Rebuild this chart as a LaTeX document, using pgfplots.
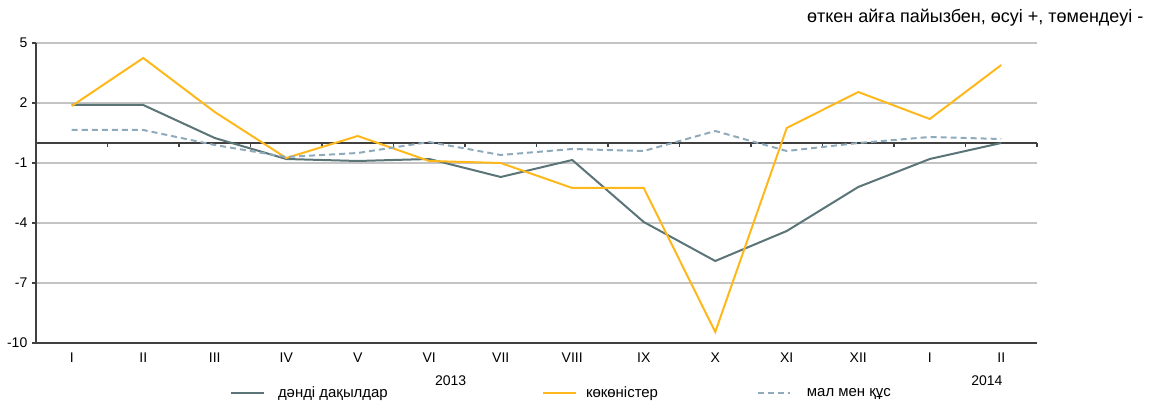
\documentclass[border=0pt]{standalone}
\usepackage{pgfplots}
\pgfplotsset{compat=1.18}
\usepackage{fontspec}
\setmainfont{Liberation Sans}
\definecolor{grain}{HTML}{5B7478}
\definecolor{veg}{HTML}{FFB81C}
\definecolor{meat}{HTML}{8FAABB}
\definecolor{axisdark}{HTML}{404040}
\definecolor{gridgray}{HTML}{C4C4C4}
\begin{document}
\begin{tikzpicture}
\useasboundingbox (-27pt,-45pt) rectangle (838.5pt,257.25pt);
\begin{axis}[
  at={(0,0)}, anchor=south west,
  scale only axis, width=750.75pt, height=225pt,
  xmin=-0.5, xmax=13.5, ymin=-10, ymax=5,
  axis x line*=bottom, axis y line*=left,
  axis line style={axisdark, line width=1.1pt},
  xtick={0,...,13},
  xticklabels={I,II,III,IV,V,VI,VII,VIII,IX,X,XI,XII,I,II},
  x tick style={draw=none},
  ytick={-10,-7,-4,-1,2,5},
  yticklabels={-10,-7,-4,-1,2,5},
  y tick style={axisdark, line width=0.8pt},
  tick align=outside, major tick length=3pt,
  ymajorgrids, grid style={gridgray, line width=1.2pt},
  tick label style={font=\fontsize{10.5}{12}\selectfont},
  xticklabel style={yshift=-1pt},
  clip=false,
  legend columns=3,
  legend cell align=left,
  legend image code/.code={\draw[#1] (0cm,0cm) -- (0.85cm,0cm);},
  legend style={at={(0.194,-0.167)}, anchor=west, draw=none, fill=none,
    inner sep=0pt, font=\fontsize{11.2}{13}\selectfont,
    /tikz/column 1/.style={column sep=8pt},
    /tikz/column 2/.style={column sep=114pt},
    /tikz/column 3/.style={column sep=5pt},
    /tikz/column 4/.style={column sep=72pt},
    /tikz/column 5/.style={column sep=10pt}},
]
\draw[axisdark, line width=1.1pt] (axis cs:-0.5,0) -- (axis cs:13.5,0);
\pgfplotsinvokeforeach{0,...,13}{\draw[axisdark, line width=0.8pt] (axis cs:#1.5,0) -- ([yshift=-3pt]axis cs:#1.5,0);}
\addplot[grain, line width=1.5pt] coordinates {
 (0,1.9) (1,1.9) (2,0.25) (3,-0.8) (4,-0.9) (5,-0.8) (6,-1.7)
 (7,-0.85) (8,-3.95) (9,-5.9) (10,-4.4) (11,-2.2) (12,-0.8) (13,0)};
\addlegendentry{дәнді дақылдар}
\addplot[veg, line width=1.5pt] coordinates {
 (0,1.85) (1,4.25) (2,1.55) (3,-0.75) (4,0.35) (5,-0.9) (6,-1.0)
 (7,-2.25) (8,-2.25) (9,-9.45) (10,0.75) (11,2.55) (12,1.2) (13,3.9)};
\addlegendentry{көкөністер}
\addplot[meat, line width=1.5pt, dash pattern=on 4.5pt off 3pt] coordinates {
 (0,0.65) (1,0.65) (2,-0.1) (3,-0.7) (4,-0.5) (5,0.05) (6,-0.6)
 (7,-0.3) (8,-0.4) (9,0.6) (10,-0.4) (11,0) (12,0.3) (13,0.2)};
\addlegendentry{мал мен құс}
\node[font=\fontsize{10.5}{12}\selectfont] at (axis cs:5.3,-11.9) {2013};
\node[font=\fontsize{10.5}{12}\selectfont] at (axis cs:12.8,-11.9) {2014};
\end{axis}
\node[anchor=east, font=\fontsize{13.5}{15}\selectfont] at (834pt,243.75pt) {өткен айға пайызбен, өсуі +, төмендеуі -};
\end{tikzpicture}
\end{document}
